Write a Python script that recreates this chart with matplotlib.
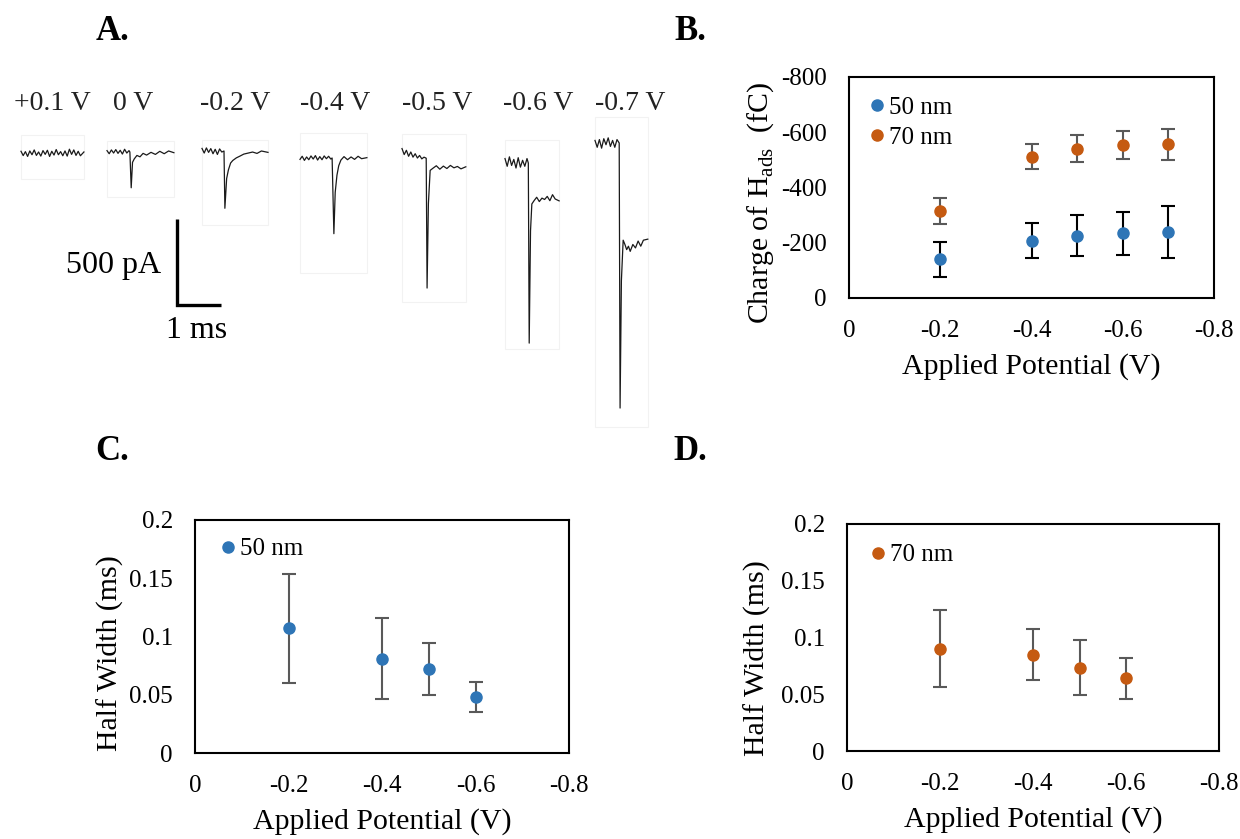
import matplotlib
matplotlib.use("Agg")
import matplotlib.pyplot as plt
from matplotlib.lines import Line2D

plt.rcParams["font.family"] = ["Liberation Serif", "DejaVu Serif"]
plt.rcParams["mathtext.fontset"] = "custom"
plt.rcParams["mathtext.rm"] = "Liberation Serif"
plt.rcParams["axes.unicode_minus"] = False

BLUE = "#2E75B6"
ORANGE = "#C55A11"
GRAY = "#595959"

# ---- panel A: current transients (time in ms, current in pA, relative to baseline)
trace_labels = ["+0.1 V", "0 V", "-0.2 V", "-0.4 V", "-0.5 V", "-0.6 V", "-0.7 V"]

t_p01 = [0, .05, .1, .15, .2, .25, .3, .35, .4, .45, .5, .55, .6, .65, .7, .75, .8, .85, .9, .95,
         1.0, 1.05, 1.1, 1.15, 1.2, 1.25, 1.3, 1.35, 1.43]
i_p01 = [10, -15, 8, -20, 12, -10, 18, -14, 6, -18, 14, -8, 16, -20, 10, -12, 20, -10, 8, -16,
         12, -18, 22, -8, 18, -14, 10, -16, 6]

t_0 = [0, .05, .1, .15, .2, .25, .3, .35, .4, .45, .5, .52, .55, .58, .62, .68, .75, .82, .9,
       1.0, 1.1, 1.2, 1.3, 1.4, 1.52]
i_0 = [8, -10, 12, -6, 14, -8, 10, -12, 16, -6, 8, 0, -208, -60, -40, -20, -28, -8, -18,
       -2, -14, 4, -10, 6, -4]

t_m02 = [0, .05, .1, .15, .2, .25, .3, .35, .4, .45, .5, .52, .56, .6, .65, .7, .78, .86, .95,
         1.05, 1.15, 1.25, 1.35, 1.5]
i_m02 = [15, -12, 18, -8, 14, -16, 10, -20, 12, -6, 0, -333, -160, -110, -70, -55, -40, -30, -18,
         -12, -6, -14, 0, -8]

t_m04 = [0, .05, .1, .15, .2, .25, .3, .35, .4, .45, .5, .55, .6, .65, .7, .73, .77, .8, .84, .88,
         .93, 1.0, 1.08, 1.16, 1.24, 1.32, 1.4, 1.52]
i_m04 = [-8, 10, -14, 6, -10, 12, -6, 14, -12, 8, -10, 12, -4, 10, -6, 0, -440, -200, -100, -45,
         -12, 8, -10, 6, -8, 10, -4, 2]

t_m05 = [0, .05, .1, .15, .2, .25, .3, .35, .4, .45, .5, .55, .57, .6, .64, .7, .78, .86, .94,
         1.02, 1.1, 1.18, 1.26, 1.34, 1.45]
i_m05 = [20, -15, 10, -25, 0, -30, -10, -35, -20, -40, -30, -36, -791, -300, -107, -95, -80, -100, -82,
         -96, -78, -92, -84, -98, -86]

t_m06 = [0, .05, .1, .15, .2, .25, .3, .35, .4, .45, .5, .53, .55, .58, .61, .66, .72, .78, .84,
         .9, .96, 1.02, 1.08, 1.14, 1.23]
i_m06 = [20, -25, 30, -20, 15, -35, 25, -30, 10, -25, 20, -6, -1053, -400, -244, -225, -205, -230, -210,
         -218, -200, -225, -190, -215, -226]

t_m07 = [0, .05, .1, .15, .2, .25, .3, .35, .4, .45, .5, .55, .57, .6, .64, .68, .72, .76, .8,
         .86, .92, .98, 1.04, 1.1, 1.2]
i_m07 = [15, -25, 20, -30, 25, -10, 30, -20, 15, -25, 20, 0, -1541, -800, -565, -590, -620, -600, -630,
         -590, -610, -570, -600, -565, -559]

traces_t = [t_p01, t_0, t_m02, t_m04, t_m05, t_m06, t_m07]
traces_i = [i_p01, i_0, i_m02, i_m04, i_m05, i_m06, i_m07]

# ---- panel B: charge of H_ads (fC)
potential_b = [-0.2, -0.4, -0.5, -0.6, -0.7]
charge_50 = [-140, -208, -226, -234, -238]
charge_50_err = [63, 65, 75, 79, 94]
charge_70 = [-314, -512, -540, -554, -557]
charge_70_err = [47, 45, 49, 52, 56]

# ---- panels C, D: half width (ms)
potential_cd = [-0.2, -0.4, -0.5, -0.6]
hw_50 = [0.107, 0.081, 0.072, 0.048]
hw_50_err = [0.047, 0.035, 0.0225, 0.0126]
hw_70 = [0.090, 0.085, 0.0735, 0.064]
hw_70_err = [0.034, 0.0226, 0.0244, 0.018]

x_ticks = [0, -0.2, -0.4, -0.6, -0.8]
x_tick_labels = ["0", "-0.2", "-0.4", "-0.6", "-0.8"]
b_ticks = [0, -200, -400, -600, -800]
b_tick_labels = ["0", "-200", "-400", "-600", "-800"]
hw_ticks = [0, 0.05, 0.1, 0.15, 0.2]
hw_tick_labels = ["0", "0.05", "0.1", "0.15", "0.2"]

fig = plt.figure(figsize=(12.4, 8.39), dpi=100)

# layout of the transients (trace origin in ms / pA of the panel-A canvas)
PX_MS = 44.0
PX_PA = 500 / 86.0
trace_x0 = [21, 107, 202, 300, 402, 505, 595]
trace_y0 = [153, 152, 151, 158, 152, 162, 143]
box_top = [18, 11, 11, 25, 18, 22, 26]
box_bot = [26, 45, 74, 115, 150, 187, 284]
label_x = [52, 133, 235, 335, 437, 538, 630]

ax_a = fig.add_axes([0, (839 - 440) / 839, 690 / 1240, 380 / 839])
ax_a.set_xlim(0, 690 / PX_MS)
ax_a.set_ylim(-380 * PX_PA, 0)
ax_a.axis("off")


def px(xp, yp):
    return xp / PX_MS, -(yp - 60) * PX_PA


for k in range(len(traces_t)):
    ox, oy = px(trace_x0[k], trace_y0[k])
    tt = [ox + t for t in traces_t[k]]
    ii = [oy + v for v in traces_i[k]]
    w = traces_t[k][-1]
    ax_a.add_patch(plt.Rectangle((ox, oy - box_bot[k] * PX_PA), w, (box_top[k] + box_bot[k]) * PX_PA,
                                 fill=False, edgecolor="#f2f2f2", linewidth=0.8))
    ax_a.plot(tt, ii, color="#1a1a1a", linewidth=0.9)
    lx, ly = px(label_x[k], 103)
    ax_a.text(lx, ly, trace_labels[k], ha="center", va="center", fontsize=20, color="#222222")

# scale bar: 500 pA x 1 ms
sx, sy = px(177, 305)
ax_a.plot([sx, sx, sx + 1.0], [sy + 500, sy, sy], color="black", linewidth=2.4,
          solid_joinstyle="miter", solid_capstyle="butt")
tx, ty = px(161, 265)
ax_a.text(tx, ty, "500 pA", ha="right", va="center", fontsize=23)
tx, ty = px(197, 330)
ax_a.text(tx, ty, "1 ms", ha="center", va="center", fontsize=23)


def style_axes(ax, yticks, ylabels):
    ax.set_xlim(0, -0.8)
    ax.set_xticks(x_ticks)
    ax.set_xticklabels(x_tick_labels)
    ax.set_yticks(yticks)
    ax.set_yticklabels(ylabels)
    ax.tick_params(length=0, pad=16, labelsize=18)
    for s in ax.spines.values():
        s.set_linewidth(1.5)
    ax.set_xlabel("Applied Potential (V)", fontsize=21.5)


def legend(ax, labels, colors, anchor):
    handles = [Line2D([], [], marker="o", linestyle="none", color=c, markersize=8) for c in colors]
    ax.legend(handles, labels, loc="upper left", bbox_to_anchor=anchor, frameon=False,
              fontsize=18, handletextpad=0.0, handlelength=1.0, labelspacing=0.3, borderpad=0)


# ---- B
ax_b = fig.add_axes([849 / 1240, (839 - 298) / 839, 365 / 1240, 221 / 839])
ax_b.errorbar(potential_b, charge_50, yerr=charge_50_err, fmt="o", color=BLUE, ecolor="black",
              markersize=8, elinewidth=1.5, capsize=5, capthick=1.5)
ax_b.errorbar(potential_b, charge_70, yerr=charge_70_err, fmt="o", color=ORANGE, ecolor=GRAY,
              markersize=8, elinewidth=1.5, capsize=5, capthick=1.5)
ax_b.set_ylim(0, -800)
style_axes(ax_b, b_ticks, b_tick_labels)
ax_b.xaxis.labelpad = 8
ax_b.set_ylabel("Charge of H$_\\mathregular{ads}$  (fC)", fontsize=21.5)
ax_b.yaxis.set_label_coords(-0.2, 0.43)
legend(ax_b, ["50 nm", "70 nm"], [BLUE, ORANGE], (0.008, 0.97))

# ---- C
ax_c = fig.add_axes([195 / 1240, (839 - 753) / 839, 374 / 1240, 233 / 839])
ax_c.errorbar(potential_cd, hw_50, yerr=hw_50_err, fmt="o", color=BLUE, ecolor=GRAY,
              markersize=8, elinewidth=1.5, capsize=5, capthick=1.5)
ax_c.set_ylim(0, 0.2)
style_axes(ax_c, hw_ticks, hw_tick_labels)
ax_c.xaxis.labelpad = 8
ax_c.set_ylabel("Half Width (ms)", fontsize=21.5)
ax_c.yaxis.set_label_coords(-0.19, 0.43)
legend(ax_c, ["50 nm"], [BLUE], (0.021, 0.977))

# ---- D
ax_d = fig.add_axes([847 / 1240, (839 - 751) / 839, 372 / 1240, 227 / 839])
ax_d.errorbar(potential_cd, hw_70, yerr=hw_70_err, fmt="o", color=ORANGE, ecolor=GRAY,
              markersize=8, elinewidth=1.5, capsize=5, capthick=1.5)
ax_d.set_ylim(0, 0.2)
style_axes(ax_d, hw_ticks, hw_tick_labels)
ax_d.xaxis.labelpad = 8
ax_d.set_ylabel("Half Width (ms)", fontsize=21.5)
ax_d.yaxis.set_label_coords(-0.205, 0.41)
legend(ax_d, ["70 nm"], [ORANGE], (0.016, 0.967))

# panel letters
for letter, x, y in [("A.", 112, 31), ("B.", 690, 31), ("C.", 112, 451), ("D.", 690, 451)]:
    fig.text(x / 1240, 1 - y / 839, letter, ha="center", va="center", fontsize=25, fontweight="bold")

fig.savefig("out.png", dpi=100)
